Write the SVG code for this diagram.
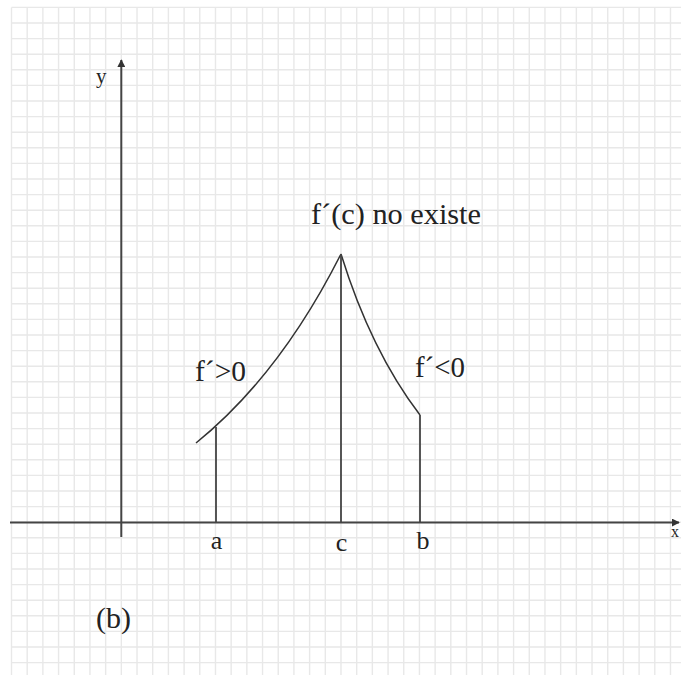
<svg xmlns="http://www.w3.org/2000/svg" width="681" height="675" viewBox="0 0 681 675">
<style>
.grid{stroke:#e8e8e8;stroke-width:1.4;fill:none}
.axis{stroke:#444;stroke-width:2;fill:none}
.curve{stroke:#333;stroke-width:1.5;fill:none}
.drop{stroke:#444;stroke-width:1.8;fill:none}
.lbl{font-family:"Liberation Serif","Times New Roman",serif;fill:#222}
</style>
<defs>
<marker id="arr" viewBox="0 0 10 10" refX="9" refY="5" markerWidth="4" markerHeight="4" orient="auto" markerUnits="strokeWidth">
<path d="M0,0 L10,5 L0,10 z" fill="#333"/>
</marker>
</defs>
<rect width="681" height="675" fill="#fff"/>
<g id="grid">
<path class="grid" d="M11.5 7.4V675M27.19 7.4V675M42.88 7.4V675M58.57 7.4V675M74.26 7.4V675M89.95 7.4V675M105.64 7.4V675M121.33 7.4V675M137.02 7.4V675M152.71 7.4V675M168.4 7.4V675M184.09 7.4V675M199.78 7.4V675M215.47 7.4V675M231.16 7.4V675M246.85 7.4V675M262.54 7.4V675M278.23 7.4V675M293.92 7.4V675M309.61 7.4V675M325.3 7.4V675M340.99 7.4V675M356.68 7.4V675M372.37 7.4V675M388.06 7.4V675M403.75 7.4V675M419.44 7.4V675M435.13 7.4V675M450.82 7.4V675M466.51 7.4V675M482.2 7.4V675M497.89 7.4V675M513.58 7.4V675M529.27 7.4V675M544.96 7.4V675M560.65 7.4V675M576.34 7.4V675M592.03 7.4V675M607.72 7.4V675M623.41 7.4V675M639.1 7.4V675M654.79 7.4V675M670.48 7.4V675"/>
<path class="grid" d="M11.5 7.4H681M11.5 23H681M11.5 38.6H681M11.5 54.2H681M11.5 69.8H681M11.5 85.4H681M11.5 101H681M11.5 116.6H681M11.5 132.2H681M11.5 147.8H681M11.5 163.4H681M11.5 179H681M11.5 194.6H681M11.5 210.2H681M11.5 225.8H681M11.5 241.4H681M11.5 257H681M11.5 272.6H681M11.5 288.2H681M11.5 303.8H681M11.5 319.4H681M11.5 335H681M11.5 350.6H681M11.5 366.2H681M11.5 381.8H681M11.5 397.4H681M11.5 413H681M11.5 428.6H681M11.5 444.2H681M11.5 459.8H681M11.5 475.4H681M11.5 491H681M11.5 506.6H681M11.5 522.2H681M11.5 537.8H681M11.5 553.4H681M11.5 569H681M11.5 584.6H681M11.5 600.2H681M11.5 615.8H681M11.5 631.4H681M11.5 647H681M11.5 662.6H681"/>
</g>
<g id="connectors">
<path id="y-axis" class="axis" d="M121.3 537V60" marker-end="url(#arr)"/>
<path id="x-axis" class="axis" d="M10 522.5H679" marker-end="url(#arr)"/>
<path id="curve-left" class="curve" d="M196 443Q280 375 341 254"/>
<path id="curve-right" class="curve" d="M341 254Q371 351 420 415"/>
<path id="drop-a" class="drop" d="M216 427V522.5"/>
<path id="drop-c" class="drop" d="M341 254V522.5"/>
<path id="drop-b" class="drop" d="M420 415V522.5"/>
</g>
<g id="label-y"><text class="lbl" x="96" y="83" font-size="21">y</text></g>
<g id="label-x"><text class="lbl" x="671" y="537" font-size="16">x</text></g>
<g id="label-peak"><text class="lbl" x="311" y="224" font-size="30" textLength="170" lengthAdjust="spacingAndGlyphs">f´(c) no existe</text></g>
<g id="label-left"><text class="lbl" x="195" y="381" font-size="29" textLength="51" lengthAdjust="spacingAndGlyphs">f´&gt;0</text></g>
<g id="label-right"><text class="lbl" x="415" y="377" font-size="29" textLength="50" lengthAdjust="spacingAndGlyphs">f´&lt;0</text></g>
<g id="label-a"><text class="lbl" x="216.5" y="549" font-size="26" text-anchor="middle">a</text></g>
<g id="label-c"><text class="lbl" x="341.5" y="551" font-size="26" text-anchor="middle">c</text></g>
<g id="label-b"><text class="lbl" x="423" y="549" font-size="26" text-anchor="middle">b</text></g>
<g id="label-case"><text class="lbl" x="96" y="628" font-size="30">(b)</text></g>
</svg>
